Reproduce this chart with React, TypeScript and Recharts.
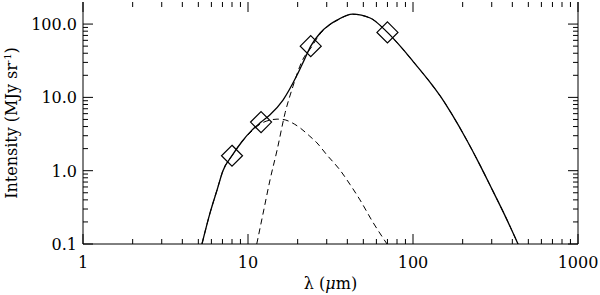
import { ComposedChart, Line, Scatter, XAxis, YAxis, Label } from 'recharts';

// axis ticks
const xMajorTicks = [1, 10, 100, 1000];
const xMinorTicks = [2, 3, 4, 5, 6, 7, 8, 9, 20, 30, 40, 50, 60, 70, 80, 90, 200, 300, 400, 500, 600, 700, 800, 900];
const yMajorTicks = [0.1, 1, 10, 100];
const yTickLabels = ['0.1', '1.0', '10.0', '100.0'];
const yMinorTicks = [0.2, 0.3, 0.4, 0.5, 0.6, 0.7, 0.8, 0.9, 2, 3, 4, 5, 6, 7, 8, 9, 20, 30, 40, 50, 60, 70, 80, 90];

// total model (solid)
const totalLambda = [5.26, 5.9, 6.5, 7.05, 8, 9.2, 10.6, 12, 13.6, 16.3, 19.8, 22, 24, 27.3, 31, 34.6, 43, 55, 70, 85, 100, 132, 152, 172, 212, 251, 301, 361, 433];
const totalIntensity = [0.1, 0.27, 0.55, 1.0, 1.6, 2.5, 3.6, 4.6, 5.8, 9.2, 20, 33, 50, 75, 97, 113, 137, 121, 77, 48, 31, 14.3, 9.2, 5.9, 2.6, 1.27, 0.56, 0.244, 0.1];

// warm component (dashed)
const warmLambda = [5.26, 5.9, 6.5, 7.05, 8, 9.2, 10.6, 12, 13.6, 15, 16.3, 18.5, 20.7, 23.5, 26.2, 30, 36.1, 41.5, 47.7, 57, 69.6];
const warmIntensity = [0.1, 0.27, 0.55, 1.0, 1.6, 2.5, 3.5, 4.4, 4.9, 5.05, 5.0, 4.5, 3.83, 3.0, 2.39, 1.65, 1.02, 0.65, 0.4, 0.2, 0.1];

// cold component (dashed)
const coldLambda = [11.3, 12.5, 13.6, 15, 16.8, 18.7, 21.5, 24, 27.3, 31, 34.6, 43, 55, 70, 85, 100, 132, 152, 172, 212, 251, 301, 361, 433];
const coldIntensity = [0.1, 0.3, 0.75, 1.9, 6.2, 14, 33, 47, 73, 96, 112, 136, 121, 77, 48, 31, 14.3, 9.2, 5.9, 2.6, 1.27, 0.56, 0.244, 0.1];

// observed points (diamonds)
const obsLambda = [8, 12, 24, 70];
const obsIntensity = [1.6, 4.6, 50, 77];

const toData = (xs: number[], ys: number[]) => xs.map((x, i) => ({ x, y: ys[i] }));
const totalData = toData(totalLambda, totalIntensity);
const warmData = toData(warmLambda, warmIntensity);
const coldData = toData(coldLambda, coldIntensity);
const obsData = toData(obsLambda, obsIntensity);

const FONT = '"DejaVu Serif", serif';
const xTicks = [...xMajorTicks, ...xMinorTicks].sort((a, b) => a - b);
const yTicks = [...yMajorTicks, ...yMinorTicks].sort((a, b) => a - b);

// layout
const W = 600;
const H = 295;
const MARGIN = { top: 2, right: 0, bottom: 0, left: 0 };
const Y_AXIS_W = 83;
const RIGHT_W = 22;
const X_AXIS_H = 51;
const plotTop = MARGIN.top;
const plotBottom = H - MARGIN.bottom - X_AXIS_H;
const plotLeft = MARGIN.left + Y_AXIS_W;
const plotRight = W - MARGIN.right - RIGHT_W;

// bottom axis tick: inward tick at bottom and top, label for majors
const XTick = ({ x, payload }: any) => {
  const major = xMajorTicks.includes(payload.value);
  const len = major ? 10 : 5;
  return (
    <g>
      <line x1={x} y1={plotBottom} x2={x} y2={plotBottom - len} stroke='#000' strokeWidth={1} />
      <line x1={x} y1={plotTop} x2={x} y2={plotTop + len} stroke='#000' strokeWidth={1} />
      {major && (
        <text x={x} y={plotBottom + 24} textAnchor='middle' fontFamily={FONT} fontSize={16} fill='#000'>
          {payload.value}
        </text>
      )}
    </g>
  );
};

// left axis tick: inward tick at left and right, label for majors
const YTick = ({ y, payload }: any) => {
  const idx = yMajorTicks.indexOf(payload.value);
  const len = idx >= 0 ? 10 : 5;
  return (
    <g>
      <line x1={plotLeft} y1={y} x2={plotLeft + len} y2={y} stroke='#000' strokeWidth={1} />
      <line x1={plotRight} y1={y} x2={plotRight - len} y2={y} stroke='#000' strokeWidth={1} />
      {idx >= 0 && (
        <text x={plotLeft - 6} y={y + 6} textAnchor='end' fontFamily={FONT} fontSize={16} fill='#000'>
          {yTickLabels[idx]}
        </text>
      )}
    </g>
  );
};

const XTitle = ({ viewBox }: any) => (
  <text x={viewBox.x + viewBox.width / 2} y={plotBottom + 45} textAnchor='middle' fontFamily={FONT} fontSize={16} fill='#000'>
    λ (<tspan fontStyle='italic'>μ</tspan>m)
  </text>
);

const YTitle = ({ viewBox }: any) => {
  const cy = viewBox.y + viewBox.height / 2;
  return (
    <text x={17} y={cy} transform={`rotate(-90 17 ${cy})`} textAnchor='middle' fontFamily={FONT} fontSize={16} fill='#000'>
      Intensity (MJy sr<tspan dy={-6} fontSize={10}>-1</tspan><tspan dy={6}>)</tspan>
    </text>
  );
};

const Diamond = ({ cx, cy }: any) => {
  const r = 10.5;
  return (
    <polygon
      points={`${cx},${cy - r} ${cx + r},${cy} ${cx},${cy + r} ${cx - r},${cy}`}
      fill='none'
      stroke='#000'
      strokeWidth={1.2}
    />
  );
};

export default function App() {
  return (
    <div style={{ position: 'absolute', left: 0, top: 0, width: W, height: H, background: '#fff' }}>
      <ComposedChart width={W} height={H} margin={MARGIN}>
        <XAxis
          dataKey='x'
          type='number'
          scale='log'
          domain={[1, 1000]}
          allowDataOverflow
          ticks={xTicks}
          interval={0}
          height={X_AXIS_H}
          tickSize={0}
          tickMargin={0}
          tickLine={false}
          axisLine={{ stroke: '#000' }}
          tick={(p: any) => <XTick {...p} />}
        >
          <Label content={<XTitle />} />
        </XAxis>
        <XAxis
          xAxisId='top'
          orientation='top'
          type='number'
          scale='log'
          domain={[1, 1000]}
          allowDataOverflow
          height={0}
          tick={false}
          tickLine={false}
          axisLine={{ stroke: '#000' }}
        />
        <YAxis
          dataKey='y'
          type='number'
          scale='log'
          domain={[0.1, 200]}
          allowDataOverflow
          ticks={yTicks}
          interval={0}
          width={Y_AXIS_W}
          tickSize={0}
          tickMargin={0}
          tickLine={false}
          axisLine={{ stroke: '#000' }}
          tick={(p: any) => <YTick {...p} />}
        >
          <Label content={<YTitle />} />
        </YAxis>
        <YAxis
          yAxisId='right'
          orientation='right'
          type='number'
          scale='log'
          domain={[0.1, 200]}
          allowDataOverflow
          width={RIGHT_W}
          tick={false}
          tickLine={false}
          axisLine={{ stroke: '#000' }}
        />
        <Line data={warmData} dataKey='y' type='monotone' stroke='#000' strokeWidth={1} strokeDasharray='6 4' dot={false} activeDot={false} isAnimationActive={false} />
        <Line data={coldData} dataKey='y' type='monotone' stroke='#000' strokeWidth={1} strokeDasharray='6 4' dot={false} activeDot={false} isAnimationActive={false} />
        <Line data={totalData} dataKey='y' type='monotone' stroke='#000' strokeWidth={1.3} dot={false} activeDot={false} isAnimationActive={false} />
        <Scatter data={obsData} dataKey='y' shape={<Diamond />} isAnimationActive={false} />
      </ComposedChart>
    </div>
  );
}
